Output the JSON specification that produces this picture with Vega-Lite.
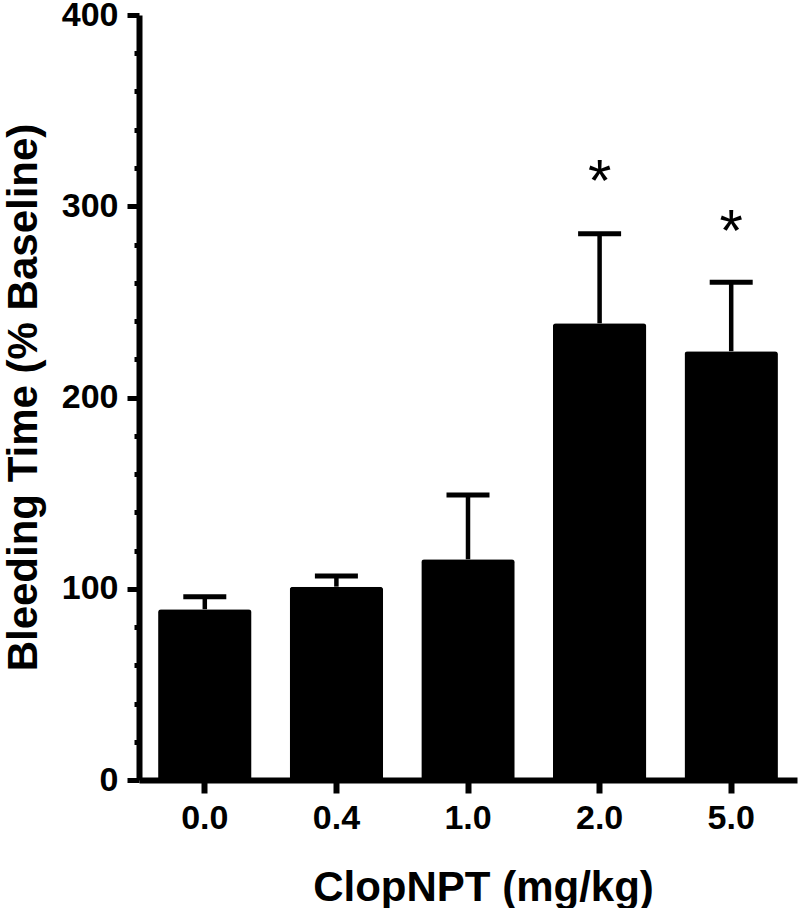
{
  "$schema": "https://vega.github.io/schema/vega-lite/v6.json",
  "width": 658,
  "height": 765,
  "autosize": "none",
  "padding": {"left": 139, "top": 15, "right": 8, "bottom": 128},
  "background": "white",
  "config": {"view": {"stroke": null}, "font": "Liberation Sans"},
  "data": {"values": [
    {"dose": "0.0", "mean": 89.3, "upper": 95.8, "star": null},
    {"dose": "0.4", "mean": 101.1, "upper": 106.7, "star": null},
    {"dose": "1.0", "mean": 115.4, "upper": 149.0, "star": null},
    {"dose": "2.0", "mean": 238.8, "upper": 285.6, "star": 318},
    {"dose": "5.0", "mean": 224.2, "upper": 260.2, "star": 292}
  ]},
  "encoding": {
    "x": {
      "field": "dose", "type": "nominal", "sort": null,
      "scale": {"paddingInner": 0.29, "paddingOuter": 0.145},
      "axis": {
        "title": "ClopNPT (mg/kg)",
        "labelAngle": 0,
        "labelFont": "Liberation Sans", "labelFontWeight": "bold", "labelFontSize": 34, "labelColor": "black",
        "labelPadding": 8,
        "domainColor": "black", "domainWidth": 6,
        "tickColor": "black", "tickWidth": 6, "tickSize": 13,
        "titleFont": "Liberation Sans", "titleFontWeight": "bold", "titleFontSize": 42, "titleColor": "black",
        "titleBaseline": "alphabetic", "titleY": 120, "titleX": 344, "titleAlign": "center"
      }
    }
  },
  "layer": [
    {
      "mark": {"type": "bar", "color": "black", "opacity": 1, "cornerRadiusTopLeft": 3, "cornerRadiusTopRight": 3},
      "encoding": {
        "y": {
          "field": "mean", "type": "quantitative",
          "scale": {"domain": [0, 400], "nice": false},
          "axis": {
            "orient": "left",
            "title": "Bleeding Time (% Baseline)",
            "values": [0, 100, 200, 300, 400],
            "grid": false,
            "labelFont": "Liberation Sans", "labelFontWeight": "bold", "labelFontSize": 34, "labelColor": "black",
            "labelPadding": 9,
            "domainColor": "black", "domainWidth": 6,
            "tickColor": "black", "tickWidth": 5, "tickSize": 12,
            "titleFont": "Liberation Sans", "titleFontWeight": "bold", "titleFontSize": 42, "titleColor": "black",
            "titleBaseline": "alphabetic", "titleX": -103, "titleY": 382, "titleAngle": -90, "titleAlign": "center"
          }
        }
      }
    },
    {
      "mark": {"type": "rule", "color": "black", "opacity": 1, "strokeWidth": 4.5},
      "encoding": {
        "y": {
          "field": "mean", "type": "quantitative",
          "axis": {
            "orient": "left",
            "title": null,
            "values": [20, 40, 60, 80, 120, 140, 160, 180, 220, 240, 260, 280, 320, 340, 360, 380],
            "labels": false, "domain": false, "grid": false,
            "tickColor": "black", "tickWidth": 5, "tickSize": 5
          }
        },
        "y2": {"field": "upper"}
      }
    },
    {
      "mark": {"type": "tick", "color": "black", "opacity": 1, "size": 43, "thickness": 5, "orient": "horizontal"},
      "encoding": {
        "y": {"field": "upper", "type": "quantitative", "axis": null}
      }
    },
    {
      "transform": [{"filter": "datum.star != null"}],
      "mark": {"type": "text", "text": "*", "font": "Liberation Sans", "fontSize": 60, "baseline": "middle", "align": "center", "dy": 11, "color": "black"},
      "encoding": {
        "y": {"field": "star", "type": "quantitative", "axis": null}
      }
    }
  ],
  "resolve": {"axis": {"y": "independent"}}
}
